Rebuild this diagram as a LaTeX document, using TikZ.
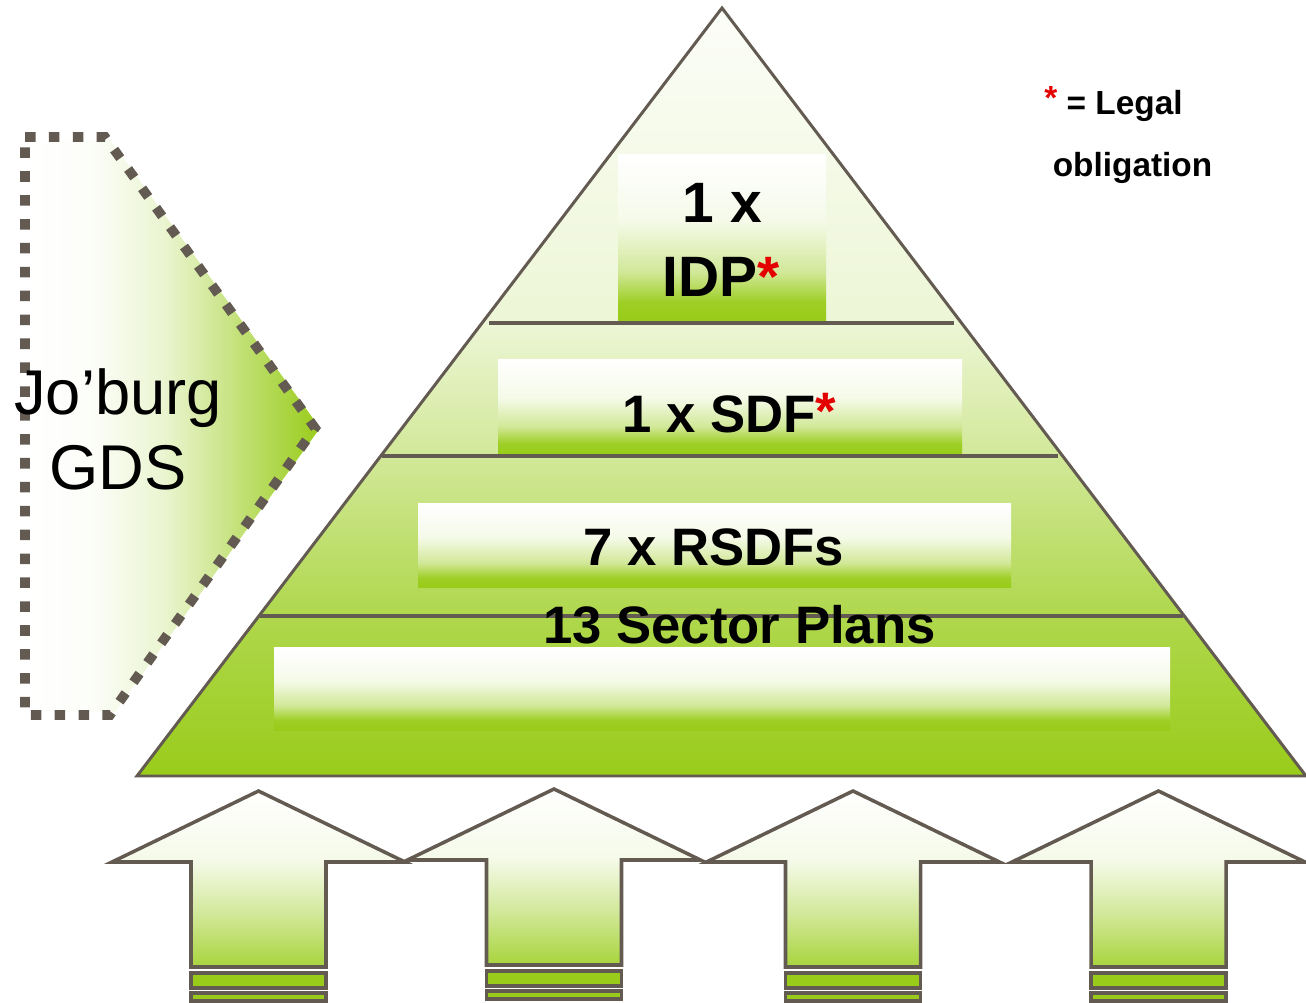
\documentclass[tikz,border=0pt]{standalone}
\usepackage{fontspec}
\setmainfont{Liberation Sans}
\definecolor{gb}{RGB}{153,204,26}
\definecolor{edge}{RGB}{99,91,81}
\definecolor{astred}{RGB}{228,0,0}
\colorlet{gP78}{gb!78!white}
\colorlet{gP45}{gb!45!white}
\colorlet{gP18}{gb!18!white}
\colorlet{gP03}{gb!3!white}
\colorlet{gB95}{gb!95!white}
\colorlet{gB45}{gb!45!white}
\colorlet{gB10}{gb!10!white}
\colorlet{gA85}{gb!85!white}
\colorlet{gA45}{gb!45!white}
\colorlet{gA10}{gb!10!white}
\colorlet{gH03}{gb!3!white}
\colorlet{gH20}{gb!20!white}
\colorlet{gH40}{gb!40!white}
\colorlet{gH65}{gb!65!white}
\pgfdeclareverticalshading{pyrshade}{100bp}{color(0bp)=(gb); color(25bp)=(gb); color(35.4bp)=(gP78); color(45.8bp)=(gP45); color(54.5bp)=(gP18); color(75bp)=(gP03); color(100bp)=(gP03)}
\pgfdeclareverticalshading{boxshade}{100bp}{color(0bp)=(gb); color(26bp)=(gb); color(31bp)=(gB95); color(40bp)=(gB45); color(55bp)=(gB10); color(75bp)=(white); color(100bp)=(white)}
\pgfdeclareverticalshading{arrowshade}{100bp}{color(0bp)=(gA85); color(25bp)=(gA85); color(40bp)=(gA45); color(55bp)=(gA10); color(75bp)=(white); color(100bp)=(white)}
\pgfdeclarehorizontalshading{penshade}{100bp}{color(0bp)=(white); color(25bp)=(white); color(36bp)=(gH03); color(48bp)=(gH20); color(55bp)=(gH40); color(63bp)=(gH65); color(75bp)=(gb); color(100bp)=(gb)}
\tikzset{
  txt/.style={inner sep=0pt, anchor=base, text=black},
  bigbold/.style={txt, font=\bfseries\fontsize{32.4}{36}\selectfont},
  midbold/.style={txt, font=\bfseries\fontsize{30}{34}\selectfont},
  legbold/.style={txt, font=\bfseries\fontsize{19}{22}\selectfont},
  gdsfont/.style={txt, font=\fontsize{36}{40}\selectfont},
  divider/.style={draw=edge, line width=2pt},
  outline/.style={draw=edge, line width=1.7pt},
  arrowedge/.style={draw=edge, line width=2pt},
}
\begin{document}
\begin{tikzpicture}[x=0.02cm, y=-0.02cm]
\useasboundingbox (0,0) rectangle (1306,1003);
% left pennant
\shade[shading=penshade] (29,140) -- (110,140) -- (320,428) -- (115,712) -- (29,712) -- cycle;
\draw[edge, line width=5.5pt, dash pattern=on 6pt off 7.6pt] (25,137) -- (105,137) -- (315,428) -- (110,715) -- (25,715) -- cycle;
\node[gdsfont] (gds1) at (118,415) {Jo’burg};
\node[gdsfont] (gds2) at (118,490) {GDS};
% pyramid
\shade[shading=pyrshade] (722,8) -- (1306,776) -- (137,776) -- cycle;
\shade[shading=boxshade] (618,155) rectangle (826,322);
\shade[shading=boxshade] (498,360) rectangle (962,455);
\shade[shading=boxshade] (418,504) rectangle (1011,588);
\shade[shading=boxshade] (274,648) rectangle (1170,730);
\draw[divider] (489,323) -- (954,323);
\draw[divider] (382,456) -- (1058,456);
\draw[divider] (260,616) -- (1183,616);
\draw[outline] (722,8) -- (1306,776) -- (137,776) -- cycle;
% texts
\node[bigbold] (idpA) at (722.5,223) {1 x};
\node[bigbold] (idpB) at (721,297) {IDP\textcolor{astred}{*}};
\node[midbold] (sdf) at (729.5,433) {1 x SDF\textcolor{astred}{\raisebox{2pt}{*}}};
\node[midbold] (rsdf) at (714,566) {7 x RSDFs};
\node[midbold] (sect) at (739.5,643) {13 Sector Plans};
\node[legbold] (leg1) at (1113.5,115) {\textcolor{astred}{\raisebox{3pt}{*}} = Legal};
\node[legbold] (leg2) at (1132.5,177) {obligation};
% bottom arrows
\foreach \cx/\dy in {258.5/0, 554/-2, 853/0, 1158.5/0} {
  \shadedraw[shading=arrowshade, arrowedge, line join=miter]
    (\cx,{791+\dy}) -- ({\cx+146.5},{862+\dy}) -- ({\cx+67.5},{862+\dy}) -- ({\cx+67.5},{967+\dy})
    -- ({\cx-67.5},{967+\dy}) -- ({\cx-67.5},{862+\dy}) -- ({\cx-146.5},{862+\dy}) -- cycle;
  \filldraw[fill=gb, arrowedge] ({\cx-67.5},{973+\dy}) rectangle ({\cx+67.5},{988+\dy});
  \filldraw[fill=gb, arrowedge] ({\cx-67.5},{993+\dy}) rectangle ({\cx+67.5},{1001+\dy});
}
\end{tikzpicture}
\end{document}
